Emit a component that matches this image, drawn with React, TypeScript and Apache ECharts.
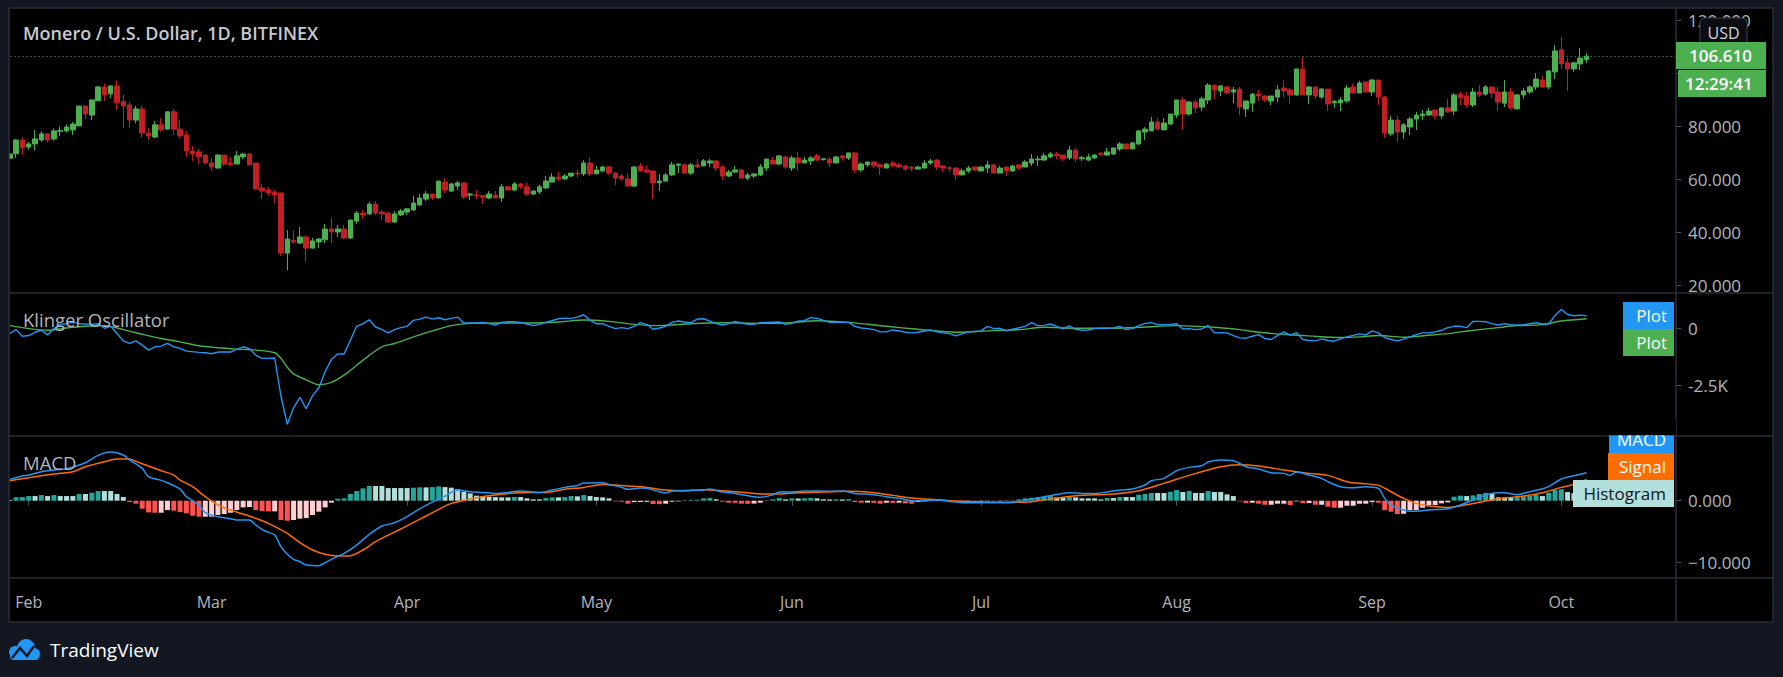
import React, { useEffect, useRef } from 'react';
import * as echarts from 'echarts';

// ---------- categories (daily, starting 2020-01-29) ----------
const START_UTC = Date.UTC(2020, 0, 29);
const CATEGORY_COUNT = 265;
const FEB1_INDEX = 3;
const MONTHS = ['Jan', 'Feb', 'Mar', 'Apr', 'May', 'Jun', 'Jul', 'Aug', 'Sep', 'Oct', 'Nov', 'Dec'];
const categories: string[] = Array.from({ length: CATEGORY_COUNT }, (_, i) =>
  new Date(START_UTC + i * 86400000).toISOString().slice(0, 10)
);

// ---------- price candles [open, close, low, high] from 2020-01-29 ----------
const ohlc: number[][] = [
  [68.1, 69.7, 67.8, 70.1], [69.8, 75.0, 68.3, 75.4], [75.0, 72.1, 69.5, 76.0],
  [72.3, 73.5, 71.2, 74.2], [73.5, 75.4, 71.0, 78.8], [75.0, 77.3, 74.4, 78.3], [77.3, 75.0, 74.0, 77.6],
  [75.4, 78.4, 74.7, 79.4], [78.3, 78.6, 76.5, 80.1], [78.4, 79.9, 77.8, 80.9], [78.8, 81.0, 76.9, 81.8],
  [80.3, 87.8, 80.2, 87.9], [87.8, 84.8, 82.9, 87.9], [84.4, 90.1, 82.5, 90.3], [89.8, 95.0, 89.7, 95.4],
  [95.0, 92.0, 89.7, 96.1], [92.4, 95.4, 90.7, 95.4], [95.4, 89.0, 86.3, 97.4], [89.5, 87.8, 79.6, 92.0],
  [88.2, 82.5, 79.6, 89.5], [82.5, 86.7, 81.3, 87.8], [86.7, 77.6, 76.1, 87.8], [77.6, 76.5, 75.0, 79.5],
  [76.1, 80.7, 75.7, 82.2], [80.7, 78.8, 78.1, 83.3], [79.1, 85.6, 78.8, 85.9], [85.6, 79.1, 76.9, 86.7],
  [79.1, 76.5, 75.4, 82.5], [76.9, 70.8, 68.6, 78.3], [70.8, 69.7, 67.1, 72.7], [70.5, 68.6, 65.9, 71.6],
  [69.3, 66.3, 65.9, 69.7], [66.3, 64.8, 63.3, 68.2], [64.4, 69.3, 64.4, 69.7], [69.3, 65.9, 65.2, 69.3],
  [66.3, 65.6, 65.2, 68.6], [65.9, 69.0, 65.9, 70.8], [68.6, 69.7, 67.8, 70.1], [69.7, 65.6, 65.6, 70.1],
  [66.3, 56.5, 56.1, 66.3], [56.9, 55.7, 52.7, 58.4], [56.1, 55.0, 53.9, 57.3], [55.4, 54.2, 51.2, 56.1],
  [55.0, 32.3, 31.2, 55.0], [32.3, 37.6, 25.9, 41.0], [37.2, 36.5, 35.7, 40.7], [36.1, 38.4, 35.7, 42.2],
  [38.4, 34.2, 29.0, 39.1], [34.2, 36.9, 33.9, 38.0], [36.5, 37.6, 34.2, 38.0], [37.3, 41.4, 36.1, 43.3],
  [41.4, 40.3, 36.1, 45.6], [40.3, 41.4, 38.4, 42.9], [41.4, 38.0, 37.6, 42.9], [38.0, 44.8, 37.6, 44.8],
  [44.4, 47.4, 43.3, 48.2], [47.4, 46.7, 45.2, 48.6], [47.1, 50.8, 46.7, 51.6], [50.8, 47.4, 46.7, 52.0],
  [47.8, 47.1, 44.8, 48.6], [47.4, 44.0, 44.0, 47.8], [44.0, 47.1, 43.7, 48.2], [46.7, 48.2, 46.3, 49.0],
  [47.8, 49.0, 46.7, 49.3], [48.6, 51.2, 48.2, 53.9], [50.5, 53.1, 50.1, 54.6], [52.7, 54.6, 52.0, 55.7],
  [54.6, 53.1, 52.3, 54.6], [53.1, 59.5, 53.1, 59.5], [59.1, 56.1, 55.0, 60.6], [55.7, 58.4, 55.4, 58.8],
  [57.6, 58.8, 56.1, 59.5], [58.8, 53.5, 52.7, 58.8], [54.2, 54.6, 52.3, 55.0], [54.3, 53.9, 52.7, 56.1],
  [54.0, 53.4, 50.8, 54.2], [53.1, 54.6, 52.7, 55.7], [54.2, 53.1, 53.1, 55.7], [53.1, 57.3, 51.6, 58.4],
  [57.3, 56.1, 56.1, 57.6], [56.1, 58.4, 55.7, 59.1], [58.4, 57.3, 56.5, 58.8], [57.3, 54.6, 53.9, 58.8],
  [54.6, 55.7, 54.2, 56.1], [55.4, 57.3, 54.6, 58.0], [56.9, 59.5, 56.5, 61.4], [59.1, 61.0, 59.1, 62.5],
  [61.0, 60.3, 59.5, 62.9], [60.3, 61.4, 59.9, 62.2], [61.4, 62.5, 61.0, 62.5], [62.5, 62.2, 61.0, 64.0],
  [62.2, 66.3, 61.4, 67.4], [66.3, 62.2, 61.4, 68.6], [62.2, 63.7, 62.2, 65.2], [63.3, 64.8, 62.9, 65.2],
  [64.8, 62.5, 61.8, 65.2], [62.5, 60.6, 58.0, 62.9], [61.4, 60.3, 59.5, 62.2], [60.3, 57.6, 57.3, 62.5],
  [57.6, 64.8, 57.3, 65.2], [65.2, 63.3, 62.9, 66.3], [63.7, 62.9, 62.5, 65.2], [63.3, 58.8, 52.7, 63.3],
  [58.8, 59.5, 55.7, 62.2], [59.5, 61.8, 59.1, 62.5], [61.8, 65.6, 61.4, 66.7], [65.5, 65.9, 62.5, 66.1],
  [65.6, 62.5, 62.2, 65.9], [62.5, 65.6, 61.8, 66.3], [65.6, 64.8, 64.4, 67.8], [65.2, 67.1, 65.2, 67.8],
  [66.3, 67.1, 64.8, 67.8], [67.1, 64.4, 63.3, 67.4], [64.8, 61.4, 59.9, 65.6], [61.4, 62.9, 61.0, 63.7],
  [62.9, 63.7, 62.5, 65.2], [63.7, 60.6, 60.6, 64.0], [60.6, 61.8, 59.9, 62.5], [61.4, 62.2, 60.6, 62.5],
  [61.8, 64.8, 61.4, 65.9], [64.4, 67.8, 63.3, 67.8], [67.4, 65.9, 65.9, 68.6], [65.9, 69.0, 65.6, 69.0],
  [68.6, 64.8, 64.0, 69.0], [64.4, 68.2, 63.3, 69.0], [68.2, 66.3, 63.3, 70.5], [66.3, 67.4, 66.3, 68.6],
  [67.1, 68.2, 65.6, 69.0], [69.0, 67.4, 67.1, 69.7], [67.6, 67.9, 67.2, 68.2], [67.8, 66.3, 64.8, 68.6],
  [66.3, 68.6, 66.3, 69.0], [69.0, 68.2, 67.1, 69.3], [68.2, 70.1, 67.4, 70.1], [70.1, 63.7, 62.5, 70.5],
  [63.7, 65.9, 62.9, 66.7], [65.6, 66.7, 64.8, 66.7], [66.7, 65.2, 64.4, 67.1], [65.6, 64.8, 61.8, 65.9],
  [64.4, 65.9, 64.4, 66.3], [66.3, 65.2, 64.8, 67.1], [65.6, 64.8, 64.4, 66.3], [65.2, 64.0, 63.3, 65.6],
  [64.7, 64.3, 63.3, 65.2], [64.0, 64.8, 64.0, 65.2], [64.4, 66.3, 64.4, 67.4], [66.3, 67.1, 65.6, 67.8],
  [67.4, 64.8, 63.7, 67.8], [65.2, 64.4, 62.9, 65.6], [64.5, 64.2, 62.9, 65.2], [64.4, 61.8, 59.9, 64.8],
  [61.8, 63.3, 61.8, 64.0], [63.3, 64.4, 62.5, 65.2], [64.8, 63.7, 63.3, 64.8], [63.3, 64.8, 63.3, 65.2],
  [64.4, 65.6, 62.5, 67.1], [65.6, 62.5, 62.5, 65.9], [62.5, 64.4, 62.5, 65.2], [64.8, 63.3, 61.4, 64.8],
  [63.3, 65.2, 62.9, 65.6], [65.6, 64.4, 63.7, 65.6], [64.8, 66.7, 64.8, 67.4], [66.3, 67.8, 65.2, 69.7],
  [67.5, 67.8, 65.2, 69.0], [67.4, 69.0, 67.4, 70.1], [68.6, 69.7, 68.2, 70.5], [69.7, 69.0, 67.8, 70.5],
  [69.3, 67.8, 67.1, 69.3], [68.2, 71.2, 67.4, 72.7], [71.2, 67.8, 66.7, 72.0], [67.9, 68.3, 67.1, 69.0],
  [67.4, 68.6, 67.1, 69.7], [68.2, 69.3, 67.8, 69.7], [69.9, 69.6, 69.0, 70.5], [69.3, 70.5, 69.0, 72.0],
  [69.7, 72.0, 69.3, 72.0], [71.6, 73.5, 70.8, 74.2], [73.5, 71.6, 71.6, 73.5], [71.6, 73.9, 71.6, 74.2],
  [73.5, 78.4, 73.1, 78.8], [78.0, 79.1, 75.0, 79.9], [78.4, 81.8, 78.4, 83.7], [81.8, 79.1, 78.8, 83.3],
  [78.8, 81.4, 78.8, 83.3], [81.0, 84.8, 80.7, 84.8], [84.4, 90.1, 83.3, 90.1], [90.1, 84.8, 78.8, 91.2],
  [84.8, 89.3, 84.1, 89.7], [89.3, 87.1, 85.2, 90.1], [87.4, 90.5, 85.9, 91.2], [90.1, 95.7, 88.6, 96.5],
  [95.7, 93.9, 90.5, 95.7], [93.5, 95.4, 91.6, 95.7], [95.0, 92.7, 92.3, 95.4], [93.1, 93.9, 88.9, 95.0],
  [94.2, 87.4, 84.4, 95.0], [86.7, 89.7, 83.7, 89.7], [88.9, 92.3, 85.6, 92.7], [92.3, 91.6, 89.7, 93.9],
  [91.6, 90.1, 89.3, 92.0], [89.7, 91.6, 88.2, 91.6], [91.2, 93.9, 89.3, 95.7], [94.6, 93.5, 91.2, 97.6],
  [93.9, 92.0, 88.6, 94.6], [92.0, 101.8, 91.6, 101.8], [101.8, 92.0, 92.0, 106.3], [92.0, 95.0, 88.6, 95.4],
  [95.0, 91.6, 90.5, 95.0], [91.2, 94.2, 90.5, 94.6], [94.2, 88.6, 85.9, 94.2], [89.0, 89.5, 87.1, 90.1],
  [89.0, 90.1, 85.9, 91.2], [89.7, 94.6, 89.0, 95.7], [95.0, 92.7, 92.7, 96.1], [92.7, 96.5, 92.7, 97.3],
  [96.9, 93.1, 93.1, 96.9], [93.1, 97.6, 91.6, 98.0], [97.6, 91.2, 88.2, 97.6], [91.2, 77.6, 75.7, 91.6],
  [77.3, 82.5, 76.5, 84.1], [82.5, 78.0, 74.2, 84.1], [78.0, 80.7, 75.4, 81.4], [79.9, 82.9, 76.9, 83.7],
  [82.9, 84.4, 78.8, 85.6], [84.1, 84.8, 82.5, 86.3], [84.4, 85.9, 84.1, 87.1], [86.3, 84.1, 82.9, 86.3],
  [84.1, 87.1, 82.9, 87.4], [87.1, 85.6, 85.2, 90.5], [85.9, 92.0, 84.4, 92.7], [92.3, 90.9, 88.2, 93.1],
  [91.6, 88.2, 87.1, 93.1], [88.2, 93.1, 87.4, 94.6], [93.1, 92.0, 91.2, 95.7], [92.3, 95.0, 91.6, 95.7],
  [95.0, 92.7, 90.9, 95.0], [93.1, 89.3, 85.9, 95.0], [88.9, 93.1, 87.4, 97.6], [93.1, 87.1, 86.3, 94.6],
  [86.7, 92.0, 86.7, 92.3], [92.0, 93.5, 90.5, 94.6], [93.1, 95.0, 92.3, 95.7], [95.0, 98.0, 93.9, 100.3],
  [97.6, 95.0, 94.6, 99.1], [95.0, 101.0, 94.2, 101.4], [100.7, 108.6, 98.0, 110.8], [109.0, 103.7, 101.8, 113.9],
  [104.1, 101.8, 93.5, 105.9], [101.8, 104.1, 100.7, 104.4], [103.7, 105.9, 101.4, 109.7], [105.4, 106.61, 104.0, 107.8],
];
const LAST_PRICE = 106.61;

// ---------- Klinger oscillator: [days after Feb 1, value] ----------
const klingerKvo: number[][] = [
  [-3, -230], [-2, -58], [-1, -345], [0, -316], [1, -173], [2, -86], [3, -288], [4, -14], [5, 172], [6, 201],
  [7, 258], [8, 201], [10, 172], [11, 201], [12, 0], [13, 86], [14, -230], [15, -546], [16, -661], [17, -546],
  [18, -733], [19, -949], [20, -805], [21, -776], [22, -661], [23, -805], [24, -877], [25, -992], [27, -1049],
  [28, -1064], [29, -1107], [30, -1035], [32, -1035], [33, -920], [34, -805], [35, -891], [36, -1164],
  [37, -1308], [38, -1308], [39, -1293], [40, -2960], [41, -4182], [42, -3463], [43, -3004], [44, -3506],
  [45, -2932], [46, -2601], [47, -1883], [48, -1351], [49, -1121], [50, -1121], [51, -518], [52, 86],
  [53, 201], [54, 373], [55, 57], [56, -58], [57, -201], [58, -58], [59, 29], [60, 86], [61, 345], [62, 402],
  [63, 488], [64, 402], [65, 460], [66, 373], [67, 431], [68, 488], [69, 230], [71, 230], [72, 258], [73, 201],
  [74, 144], [75, 258], [76, 287], [77, 287], [78, 258], [79, 187], [80, 115], [81, 172], [82, 258], [84, 417],
  [85, 445], [86, 431], [87, 488], [88, 589], [89, 345], [90, 201], [91, 201], [92, 86], [93, -14], [94, 29],
  [95, -14], [96, 86], [97, 244], [98, 172], [99, -43], [100, 14], [101, 86], [102, 258], [103, 316], [104, 273],
  [105, 244], [106, 402], [107, 417], [108, 316], [109, 201], [110, 144], [111, 201], [112, 302], [113, 230],
  [114, 172], [115, 172], [116, 244], [117, 258], [119, 273], [120, 172], [121, 215], [122, 316], [123, 330],
  [124, 460], [125, 431], [126, 345], [127, 258], [130, 258], [131, 86], [132, 14], [133, -14], [134, -58],
  [135, -158], [136, -158], [137, -72], [138, -115], [139, -173], [140, -201], [141, -173], [143, -72],
  [144, -158], [145, -201], [146, -230], [147, -331], [148, -244], [149, -158], [151, -115], [152, 86],
  [153, -14], [154, 0], [155, -115], [156, -43], [158, 86], [159, 244], [160, 115], [161, 129], [162, 187],
  [163, 86], [164, -29], [165, 101], [166, -43], [167, -86], [168, -72], [169, -14], [170, 0], [172, 14],
  [173, 86], [174, -58], [175, -14], [176, 115], [177, 215], [178, 244], [179, 158], [181, 172], [182, 201],
  [183, -29], [184, -14], [185, -58], [186, -29], [187, 129], [188, -201], [189, -187], [190, -201], [191, -316],
  [192, -417], [193, -431], [194, -345], [195, -273], [196, -446], [197, -489], [198, -316], [199, -158],
  [200, -302], [201, -187], [202, -489], [203, -532], [204, -546], [205, -460], [206, -532], [207, -561],
  [208, -460], [209, -374], [211, -244], [212, -288], [213, -115], [214, -201], [215, -403], [216, -489],
  [217, -546], [218, -474], [219, -374], [220, -273], [221, -201], [222, -201], [223, -158], [224, -86],
  [225, 29], [226, 86], [227, 86], [228, 29], [229, 302], [230, 302], [231, 287], [232, 201], [233, 144],
  [234, 201], [235, 144], [236, 144], [237, 158], [238, 201], [239, 244], [240, 187], [241, 187], [242, 560],
  [243, 819], [244, 603], [245, 546], [246, 575], [247, 546],
];
const klingerSignal: number[][] = [
  [-3, 129], [0, -14], [3, -86], [6, 14], [9, 86], [12, 115], [15, -58], [18, -259], [21, -446], [24, -589],
  [27, -762], [30, -848], [33, -905], [36, -949], [39, -1064], [40, -1308], [41, -1696], [42, -1983],
  [44, -2242], [46, -2457], [48, -2357], [50, -2041], [52, -1610], [54, -1179], [56, -805], [58, -661],
  [61, -374], [64, -115], [67, 115], [70, 215], [74, 230], [79, 230], [84, 273], [88, 359], [92, 302],
  [96, 172], [100, 115], [105, 201], [110, 244], [116, 215], [121, 244], [125, 330], [130, 258], [136, 86],
  [141, -43], [147, -173], [153, -101], [157, -58], [161, 43], [166, 0], [172, 0], [177, 57], [182, 115],
  [188, 43], [192, -58], [195, -173], [198, -244], [203, -331], [208, -403], [211, -374], [214, -316],
  [218, -388], [222, -302], [225, -230], [227, -158], [230, -58], [233, 29], [236, 115], [240, 158],
  [243, 316], [247, 417],
];

// ---------- MACD: [days after Feb 1, value] ----------
const macdLine: number[][] = [
  [-3, 3.44], [-1, 3.98], [0, 4.14], [2, 4.68], [4, 4.95], [6, 5.16], [8, 5.75], [9, 6.13], [11, 7.31],
  [13, 7.85], [15, 7.37], [16, 6.56], [18, 5.22], [19, 3.87], [21, 3.28], [22, 2.9], [24, 1.88], [25, 0.65],
  [27, -0.7], [28, -1.93], [30, -2.58], [32, -2.9], [33, -3.12], [35, -3.12], [36, -3.92], [37, -4.62],
  [38, -5.11], [39, -5.54], [40, -7.42], [41, -8.65], [42, -9.46], [43, -9.84], [44, -10.38], [46, -10.48],
  [47, -10.0], [48, -9.46], [50, -8.49], [52, -7.15], [54, -5.43], [56, -4.08], [58, -3.55], [60, -2.58],
  [62, -1.29], [64, -0.22], [66, 0.75], [68, 1.72], [70, 1.45], [72, 1.34], [74, 1.18], [76, 1.34], [78, 1.56],
  [81, 1.34], [83, 1.72], [85, 2.15], [87, 2.47], [88, 2.85], [91, 2.9], [92, 2.63], [94, 2.15], [95, 1.83],
  [97, 2.04], [98, 1.99], [100, 1.45], [101, 1.24], [102, 1.56], [105, 1.67], [107, 1.72], [108, 1.88],
  [110, 1.4], [112, 1.18], [115, 0.65], [116, 0.54], [118, 0.97], [119, 1.4], [121, 1.4], [123, 1.56],
  [125, 1.56], [127, 1.51], [129, 1.56], [131, 1.18], [134, 0.97], [136, 0.65], [138, 0.38], [140, 0],
  [142, 0], [144, 0.11], [146, -0.11], [148, -0.32], [151, -0.32], [153, -0.27], [155, -0.27], [157, -0.11],
  [159, 0.22], [161, 0.65], [163, 1.02], [165, 1.29], [167, 1.18], [169, 1.18], [171, 1.4], [173, 1.72],
  [175, 1.88], [177, 2.53], [178, 3.23], [180, 3.6], [182, 4.84], [184, 5.38], [186, 5.65], [187, 6.24],
  [189, 6.56], [191, 6.45], [192, 6.02], [193, 5.48], [195, 5.11], [197, 4.52], [199, 4.41], [200, 4.09],
  [201, 4.63], [203, 4.14], [205, 3.6], [206, 3.07], [208, 2.26], [210, 2.1], [212, 2.26], [214, 1.99],
  [215, 0.38], [216, -0.7], [218, -1.5], [219, -1.72], [220, -1.72], [222, -1.5], [225, -1.29], [227, -0.7],
  [229, 0.11], [231, 0.91], [233, 1.29], [234, 1.29], [236, 0.97], [238, 1.45], [240, 1.94], [241, 2.26],
  [243, 3.5], [245, 4.03], [247, 4.52],
];
const macdSignal: number[][] = [
  [-3, 3.23], [-1, 3.55], [1, 3.87], [4, 4.3], [7, 4.68], [9, 5.48], [12, 6.29], [14, 6.72], [16, 6.72],
  [17, 6.35], [19, 5.59], [21, 4.84], [23, 4.14], [24, 3.33], [26, 2.26], [28, 0.65], [30, -0.7], [32, -1.5],
  [34, -2.15], [36, -2.85], [38, -3.65], [41, -5.27], [43, -6.77], [45, -7.95], [47, -8.65], [49, -8.92],
  [51, -8.87], [53, -7.95], [55, -6.61], [57, -5.54], [59, -4.57], [61, -3.49], [63, -2.47], [65, -1.4],
  [67, -0.43], [70, 0.27], [72, 0.65], [74, 0.91], [76, 1.18], [78, 1.29], [82, 1.34], [85, 1.83], [88, 2.15],
  [91, 2.63], [95, 2.37], [98, 2.15], [101, 1.72], [104, 1.61], [107, 1.78], [110, 1.61], [114, 1.29],
  [116, 1.08], [119, 1.08], [122, 1.29], [126, 1.4], [130, 1.51], [134, 1.29], [137, 0.86], [140, 0.43],
  [143, 0.22], [146, 0], [150, -0.16], [153, -0.27], [156, -0.27], [159, -0.16], [161, 0.15], [166, 0.81],
  [172, 1.08], [176, 1.61], [180, 2.8], [184, 4.09], [189, 5.48], [192, 5.81], [195, 5.59], [199, 4.95],
  [203, 4.41], [206, 4.09], [209, 3.07], [211, 2.8], [214, 2.47], [216, 1.45], [218, 0.38], [220, -0.43],
  [222, -0.86], [225, -1.08], [228, -0.65], [231, -0.05], [234, 0.43], [237, 0.75], [240, 1.29], [243, 2.15],
  [245, 2.63], [247, 3.44],
];
// daily histogram from 2020-01-29
const macdHistogram: number[] = [
  0.1, 0.54, 0.59, 0.75, 0.75, 0.91, 0.75, 0.91, 0.75, 0.75, 0.75, 1.08, 1.08, 1.29, 1.56, 1.56, 1.56, 1.08,
  0.59, -0.22, -0.48, -1.29, -1.88, -1.94, -1.94, -1.51, -1.61, -1.83, -2.04, -2.42, -2.58, -2.58, -2.58,
  -2.31, -2.15, -1.94, -1.51, -1.08, -1.02, -1.51, -1.67, -1.72, -1.72, -3.12, -3.23, -3.12, -2.9, -2.8,
  -2.31, -1.77, -1.08, -0.32, 0.32, 0.38, 1.08, 1.56, 1.99, 2.37, 2.37, 2.37, 2.04, 2.04, 2.04, 2.04, 2.1,
  2.15, 2.15, 2.2, 2.31, 2.2, 2.1, 1.88, 1.45, 1.18, 0.81, 0.75, 0.65, 0.59, 0.54, 0.54, 0.59, 0.59, 0.38,
  0.22, 0.22, 0.43, 0.54, 0.54, 0.59, 0.75, 0.7, 0.91, 0.75, 0.59, 0.54, 0.38, -0.11, -0.16, -0.48, -0.22,
  -0.2, -0.18, -0.54, -0.56, -0.48, -0.16, -0.11, -0.05, 0.11, 0.16, 0.38, 0.43, 0.22, -0.16, -0.32, -0.34,
  -0.48, -0.5, -0.46, -0.32, -0.05, 0.22, 0.43, 0.22, 0.38, 0.36, 0.38, 0.43, 0.38, 0.22, 0.2, 0.22, 0.2,
  0.24, -0.22, -0.32, -0.3, -0.34, -0.48, -0.32, -0.35, -0.32, -0.43, -0.48, -0.22, -0.11, -0.06, -0.07,
  -0.06, -0.06, -0.11, -0.16, -0.11, -0.12, -0.1, -0.09, -0.12, -0.1, -0.05, -0.04, 0.22, 0.38, 0.48, 0.59,
  0.65, 0.75, 0.54, 0.48, 0.65, 0.54, 0.38, 0.38, 0.38, 0.22, 0.43, 0.43, 0.59, 0.59, 0.59, 0.97, 1.08, 1.24,
  1.24, 1.24, 1.45, 1.72, 1.4, 1.56, 1.24, 1.24, 1.56, 1.4, 1.4, 1.02, 0.75, -0.11, -0.38, -0.32, -0.48,
  -0.65, -0.65, -0.48, -0.48, -0.7, -0.11, -0.38, -0.38, -0.65, -0.65, -0.97, -1.13, -1.13, -0.81, -0.81,
  -0.48, -0.48, -0.22, -0.32, -1.51, -1.77, -2.15, -2.1, -1.51, -1.51, -1.13, -0.7, -0.7, -0.43, -0.27, 0.65,
  0.81, 0.75, 0.86, 1.08, 1.24, 1.2, 0.54, 0.54, 0.54, 0.56, 0.65, 0.75, 0.97, 0.75, 1.3, 1.75, 1.85, 1.4,
  1.2, 1.0, 0.9,
];

// ---------- axis tick values ----------
const priceTicks = [20, 40, 60, 80, 100, 120];
const priceLabels = [20, 40, 60, 80, 120]; // 100.000 sits behind the price badges
const klingerTicks = [0, -2500];
const macdTicks = [0, -10];

// ---------- style ----------
const FONT = "'Open Sans', 'Noto Sans', sans-serif";
const PAGE_BG = '#131722';
const BORDER = '#2a2e39';
const TEXT = '#b2b5be';
const UP = '#4caf50';
const DOWN = '#c21f25';
const BLUE = '#2196f3';
const ORANGE = '#ff6d00';

const W = 1783;
const H = 677;
const PANE_LEFT = 6.63;
const PANE_RIGHT_EDGE = 1678;
const AXIS_X = 1676;

const toIndex = (pts: number[][]) => pts.map(([d, v]) => [d + FEB1_INDEX, v]);

function histColor(i: number): string {
  const v = macdHistogram[i];
  const p = i > 0 ? macdHistogram[i - 1] : v;
  if (v >= 0) return v > p ? '#26a69a' : '#b2dfdb';
  return v < p ? '#ff5252' : '#ffcdd2';
}

function txt(text: string, x: number, y: number, size: number, fill: string, align = 'left', weight = 'normal', z = 100) {
  return {
    type: 'text',
    z,
    style: { text, x, y, fill, font: `${weight} ${size}px ${FONT}`, textAlign: align, textVerticalAlign: 'middle' },
  };
}
function box(x: number, y: number, w: number, h: number, fill: string, z = 90) {
  return { type: 'rect', z, shape: { x, y, width: w, height: h }, style: { fill } };
}

export default function App() {
  const ref = useRef<HTMLDivElement>(null);
  useEffect(() => {
    if (!ref.current) return;
    const chart = echarts.init(ref.current, undefined, { renderer: 'svg' });
    const gridRight = W - PANE_RIGHT_EDGE;
    const grids = [
      { left: PANE_LEFT, right: gridRight, top: 9, height: 284 },
      { left: PANE_LEFT, right: gridRight, top: 293, height: 143 },
      { left: PANE_LEFT, right: gridRight, top: 436, height: 142 },
    ];
    const isMonthStart = (_i: number, v: string) => v.slice(8, 10) === '01';
    const xAxes = [0, 1, 2].map((g) => ({
      type: 'category',
      gridIndex: g,
      data: categories,
      boundaryGap: true,
      show: g === 2,
      axisLine: { show: false },
      axisTick: {
        show: g === 2,
        alignWithLabel: true,
        interval: isMonthStart,
        length: 5,
        lineStyle: { color: '#50535e' },
      },
      axisLabel: {
        show: g === 2,
        interval: isMonthStart,
        formatter: (v: string) => MONTHS[parseInt(v.slice(5, 7), 10) - 1],
        color: TEXT,
        fontSize: 16,
        fontFamily: FONT,
        margin: 16,
        hideOverlap: false,
      },
      splitLine: { show: false },
    }));
    const yBase = (g: number, min: number, max: number, ticks: number[], labels: number[], fmt: (v: number) => string) => ({
      type: 'value',
      gridIndex: g,
      position: 'right',
      offset: -(PANE_RIGHT_EDGE - AXIS_X),
      min,
      max,
      scale: true,
      splitLine: { show: false },
      axisLine: { show: false },
      axisTick: { show: true, length: 5, lineStyle: { color: '#50535e' }, customValues: ticks },
      axisLabel: {
        customValues: labels,
        formatter: fmt,
        color: TEXT,
        fontSize: 17,
        fontFamily: FONT,
        margin: 12,
        showMinLabel: true,
        showMaxLabel: true,
      },
    });
    const yAxes = [
      yBase(0, 17.25, 124.42, priceTicks, priceLabels, (v) => v.toFixed(3)),
      yBase(1, -4690, 1537, klingerTicks, klingerTicks, (v) => (v === 0 ? '0' : `${v / 1000}K`)),
      yBase(2, -12.47, 10.44, macdTicks, macdTicks, (v) => (v === 0 ? '0.000' : `\u2212${Math.abs(v).toFixed(3)}`)),
    ];

    const graphic: any[] = [
      // outer page background around the chart frame
      box(0, 0, W, 8, PAGE_BG, 200),
      box(0, 0, 9, H, PAGE_BG, 200),
      box(1773, 0, 10, H, PAGE_BG, 200),
      box(0, 622, W, H - 622, PAGE_BG, 200),
      // frame + pane separators
      { type: 'rect', z: 201, shape: { x: 9, y: 8, width: 1764, height: 614 }, style: { fill: 'none', stroke: BORDER, lineWidth: 1.5 } },
      { type: 'line', z: 95, shape: { x1: 9, y1: 293, x2: 1773, y2: 293 }, style: { stroke: BORDER, lineWidth: 1.5 } },
      { type: 'line', z: 95, shape: { x1: 9, y1: 436, x2: 1773, y2: 436 }, style: { stroke: BORDER, lineWidth: 1.5 } },
      { type: 'line', z: 95, shape: { x1: 9, y1: 578, x2: 1773, y2: 578 }, style: { stroke: BORDER, lineWidth: 1.5 } },
      { type: 'line', z: 95, shape: { x1: AXIS_X, y1: 8, x2: AXIS_X, y2: 622 }, style: { stroke: BORDER, lineWidth: 1.5 } },
      // title & pane names
      txt('Monero / U.S. Dollar, 1D, BITFINEX', 23, 33, 18, '#c7cad1', 'left', '600'),
      txt('Klinger Oscillator', 23, 319, 18.5, TEXT),
      txt('MACD', 23, 462, 18.5, TEXT),
      // price axis badges
      { type: 'rect', z: 100, shape: { x: 1700, y: 18, width: 47, height: 29, r: 5 }, style: { fill: '#0b0d12', stroke: '#434651', lineWidth: 1 } },
      txt('USD', 1723.5, 32.5, 16, '#d1d4dc', 'center'),
      box(AXIS_X, 42, 90, 27, UP, 100),
      txt('106.610', 1689, 55.5, 17, '#ffffff', 'left', '600'),
      box(1678, 70, 88, 27, UP, 100),
      txt('12:29:41', 1685, 83.5, 17, '#ffffff', 'left', '600'),
      // Klinger legend badges
      box(1623, 302, 51, 27, BLUE, 100),
      txt('Plot', 1667, 315.5, 17, '#ffffff', 'right'),
      box(1623, 329, 51, 27, UP, 100),
      txt('Plot', 1667, 342.5, 17, '#ffffff', 'right'),
      // MACD legend badges
      box(1609, 426, 65, 27, BLUE, 100),
      txt('MACD', 1666, 439.5, 17, '#ffffff', 'right'),
      box(1600, 418, 76, 17.3, '#000000', 102),
      box(1608, 453, 66, 27, ORANGE, 100),
      txt('Signal', 1666, 466.5, 17, '#ffffff', 'right'),
      box(1573, 480, 101, 27, '#b2dfdb', 100),
      txt('Histogram', 1666, 493.5, 17, '#131722', 'right'),
      // TradingView logo
      { type: 'circle', z: 210, shape: { cx: 15, cy: 652, r: 6 }, style: { fill: BLUE } },
      { type: 'circle', z: 210, shape: { cx: 26, cy: 648, r: 9 }, style: { fill: BLUE } },
      { type: 'circle', z: 210, shape: { cx: 34, cy: 654, r: 6 }, style: { fill: BLUE } },
      { type: 'rect', z: 210, shape: { x: 10, y: 652, width: 29, height: 8, r: 4 }, style: { fill: BLUE } },
      { type: 'polyline', z: 211, shape: { points: [[12, 658], [20, 648], [27, 656], [34, 646]] }, style: { stroke: PAGE_BG, lineWidth: 2.5, fill: 'none' } },
      txt('TradingView', 50, 650, 19, '#ffffff', 'left', 'normal', 210),
    ];

    chart.setOption({
      animation: false,
      backgroundColor: '#000000',
      grid: grids,
      xAxis: xAxes,
      yAxis: yAxes,
      graphic,
      series: [
        {
          type: 'candlestick',
          xAxisIndex: 0,
          yAxisIndex: 0,
          data: ohlc,
          barWidth: 5,
          itemStyle: { color: UP, color0: DOWN, borderColor: UP, borderColor0: DOWN, borderWidth: 1 },
          markLine: {
            silent: true,
            symbol: ['none', 'none'],
            label: { show: false },
            lineStyle: { color: UP, type: [1, 3], width: 1 },
            data: [{ yAxis: LAST_PRICE }],
          },
        },
        {
          type: 'line',
          xAxisIndex: 1,
          yAxisIndex: 1,
          data: toIndex(klingerKvo),
          symbol: 'none',
          lineStyle: { color: BLUE, width: 1.4 },
          z: 4,
        },
        {
          type: 'line',
          xAxisIndex: 1,
          yAxisIndex: 1,
          data: toIndex(klingerSignal),
          symbol: 'none',
          smooth: 0.3,
          lineStyle: { color: UP, width: 1.4 },
          z: 3,
        },
        {
          type: 'bar',
          xAxisIndex: 2,
          yAxisIndex: 2,
          barWidth: 5,
          data: macdHistogram.map((v, i) => ({ value: v, itemStyle: { color: histColor(i) } })),
          z: 2,
        },
        {
          type: 'line',
          xAxisIndex: 2,
          yAxisIndex: 2,
          data: toIndex(macdLine),
          symbol: 'none',
          smooth: 0.3,
          lineStyle: { color: BLUE, width: 1.5 },
          z: 4,
        },
        {
          type: 'line',
          xAxisIndex: 2,
          yAxisIndex: 2,
          data: toIndex(macdSignal),
          symbol: 'none',
          smooth: 0.3,
          lineStyle: { color: ORANGE, width: 1.5 },
          z: 3,
        },
      ],
    });
    return () => chart.dispose();
  }, []);
  return (
    <div
      ref={ref}
      style={{ position: 'absolute', left: 0, top: 0, width: W, height: H, background: PAGE_BG }}
    />
  );
}
